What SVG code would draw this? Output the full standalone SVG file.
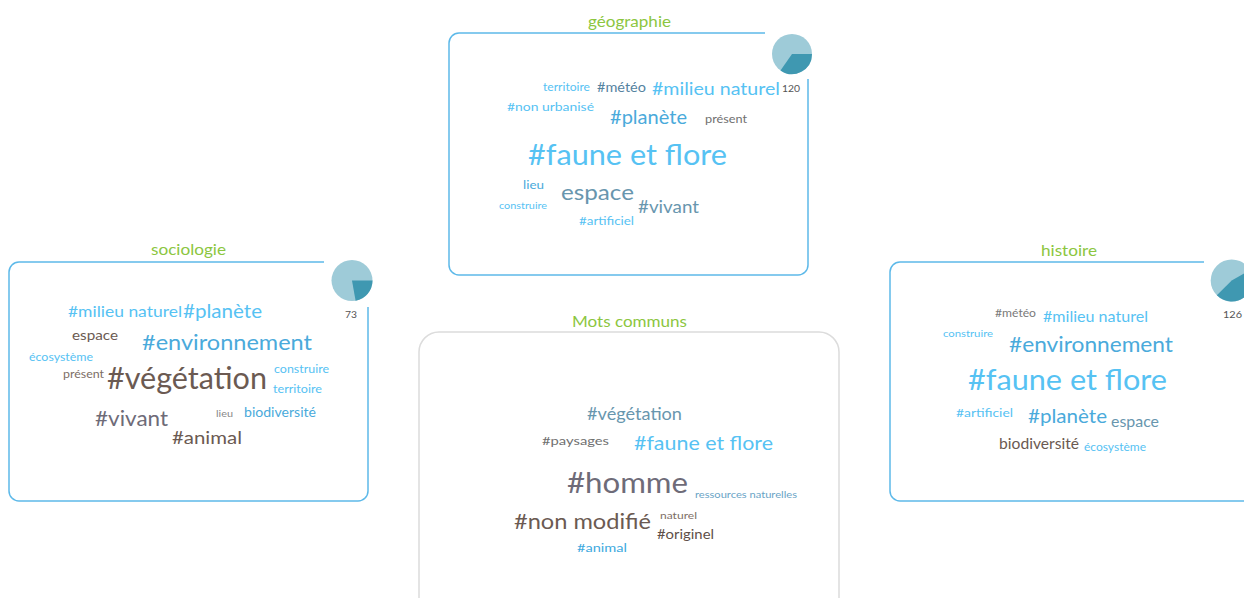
<svg xmlns="http://www.w3.org/2000/svg" width="1244" height="598" viewBox="0 0 1244 598">
<style>
text { font-family: Lato, "Open Sans", "Liberation Sans", sans-serif; }
.title { fill: #8cc63f; font-size: 15px; }
.box { fill: none; stroke: #5db9e9; stroke-width: 1.5; }
.gbox { fill: none; stroke: #dcdcdc; stroke-width: 1.5; }
.pl { fill: #9ecbd8; }
.pd { fill: #3f98b1; }
.num { fill: #555; font-size: 10px; }
.c1 { fill: #56c2f3; }
.c2 { fill: #4aaadb; }
.c3 { fill: #6896ae; }
.c4 { fill: #6b5a52; }
.c5 { fill: #707070; }
.c6 { fill: #6e6b78; }
</style>
<rect width="1244" height="598" fill="#fff"/>
<g id="connectors"/>

<g id="geographie">
  <text class="title" x="588" y="27" textLength="83" lengthAdjust="spacingAndGlyphs">géographie</text>
  <path class="box" d="M765,33 H459 A10,10 0 0 0 449,43 V265 A10,10 0 0 0 459,275 H798 A10,10 0 0 0 808,265 V79"/>
  <circle class="pl" cx="792" cy="54" r="20"/>
  <path class="pd" d="M792,54 L812,54 A20,20 0 0 1 780.5,70.4 Z"/>
  <text class="num" x="782" y="92" textLength="18" lengthAdjust="spacingAndGlyphs">120</text>
  <text class="c1" x="543" y="91" font-size="11" textLength="47" lengthAdjust="spacingAndGlyphs">territoire</text>
  <text class="c3" x="597" y="92" font-size="13" textLength="49" lengthAdjust="spacingAndGlyphs" style="fill:#55839f">#météo</text>
  <text class="c1" x="652" y="95" font-size="18" textLength="128" lengthAdjust="spacingAndGlyphs">#milieu naturel</text>
  <text class="c1" x="507" y="111" font-size="12" textLength="87" lengthAdjust="spacingAndGlyphs">#non urbanisé</text>
  <text class="c2" x="610" y="124" font-size="19" textLength="77" lengthAdjust="spacingAndGlyphs">#planète</text>
  <text class="c5" x="705" y="123" font-size="12" textLength="42" lengthAdjust="spacingAndGlyphs">présent</text>
  <text class="c1" x="528" y="165" font-size="29" textLength="199" lengthAdjust="spacingAndGlyphs">#faune et flore</text>
  <text class="c2" x="523" y="189" font-size="12" textLength="21" lengthAdjust="spacingAndGlyphs">lieu</text>
  <text class="c3" x="561" y="200" font-size="21" textLength="73" lengthAdjust="spacingAndGlyphs">espace</text>
  <text class="c3" x="638" y="213" font-size="18" textLength="61" lengthAdjust="spacingAndGlyphs">#vivant</text>
  <text class="c1" x="499" y="209" font-size="10" textLength="48" lengthAdjust="spacingAndGlyphs">construire</text>
  <text class="c1" x="579" y="225" font-size="12" textLength="55" lengthAdjust="spacingAndGlyphs">#artificiel</text>
</g>

<g id="sociologie">
  <text class="title" x="151" y="255" textLength="75" lengthAdjust="spacingAndGlyphs">sociologie</text>
  <path class="box" d="M324,262 H19 A10,10 0 0 0 9,272 V491 A10,10 0 0 0 19,501 H358 A10,10 0 0 0 368,491 V307"/>
  <circle class="pl" cx="352" cy="280.5" r="20.5"/>
  <path class="pd" d="M352,280.5 L372.5,280.5 A20.5,20.5 0 0 1 355.6,300.7 Z"/>
  <text class="num" x="345" y="318" textLength="12" lengthAdjust="spacingAndGlyphs">73</text>
  <text class="c1" x="68" y="317" font-size="16" textLength="114" lengthAdjust="spacingAndGlyphs">#milieu naturel</text>
  <text class="c1" x="183" y="318" font-size="19" textLength="79" lengthAdjust="spacingAndGlyphs">#planète</text>
  <text class="c4" x="72" y="340" font-size="14" textLength="46" lengthAdjust="spacingAndGlyphs">espace</text>
  <text class="c2" x="142" y="350" font-size="21" textLength="170" lengthAdjust="spacingAndGlyphs">#environnement</text>
  <text class="c1" x="29" y="361" font-size="11" textLength="64" lengthAdjust="spacingAndGlyphs">écosystème</text>
  <text class="c1" x="274" y="373" font-size="12" textLength="55" lengthAdjust="spacingAndGlyphs">construire</text>
  <text class="c4" x="63" y="378" font-size="11" textLength="41" lengthAdjust="spacingAndGlyphs" style="fill:#7d6e66">présent</text>
  <text class="c4" x="107" y="389" font-size="30" textLength="160" lengthAdjust="spacingAndGlyphs">#végétation</text>
  <text class="c1" x="273" y="393" font-size="12" textLength="49" lengthAdjust="spacingAndGlyphs">territoire</text>
  <text class="c6" x="95" y="426" font-size="21" textLength="73" lengthAdjust="spacingAndGlyphs">#vivant</text>
  <text class="c5" x="216" y="417" font-size="10" textLength="17" lengthAdjust="spacingAndGlyphs" style="fill:#888">lieu</text>
  <text class="c2" x="244" y="417" font-size="13" textLength="72" lengthAdjust="spacingAndGlyphs">biodiversité</text>
  <text class="c4" x="172" y="444" font-size="18" textLength="70" lengthAdjust="spacingAndGlyphs">#animal</text>
</g>

<g id="histoire">
  <text class="title" x="1041" y="256" textLength="56" lengthAdjust="spacingAndGlyphs">histoire</text>
  <path class="box" d="M1204,262 H900 A10,10 0 0 0 890,272 V491 A10,10 0 0 0 900,501 H1250"/>
  <circle class="pl" cx="1231.7" cy="280.5" r="21"/>
  <path class="pd" d="M1231.7,280.5 L1249.9,270 A21,21 0 0 1 1216.85,295.35 Z"/>
  <text class="num" x="1223" y="318" textLength="19" lengthAdjust="spacingAndGlyphs">126</text>
  <text class="c5" x="995" y="317" font-size="11" textLength="41" lengthAdjust="spacingAndGlyphs" style="fill:#7a7a7a">#météo</text>
  <text class="c1" x="1043" y="322" font-size="15" textLength="105" lengthAdjust="spacingAndGlyphs">#milieu naturel</text>
  <text class="c1" x="943" y="337" font-size="10" textLength="50" lengthAdjust="spacingAndGlyphs">construire</text>
  <text class="c2" x="1009" y="352" font-size="21" textLength="164" lengthAdjust="spacingAndGlyphs">#environnement</text>
  <text class="c1" x="968" y="390" font-size="29" textLength="199" lengthAdjust="spacingAndGlyphs">#faune et flore</text>
  <text class="c1" x="956" y="417" font-size="12" textLength="57" lengthAdjust="spacingAndGlyphs">#artificiel</text>
  <text class="c2" x="1028" y="423" font-size="19" textLength="79" lengthAdjust="spacingAndGlyphs">#planète</text>
  <text class="c3" x="1111" y="427" font-size="15" textLength="48" lengthAdjust="spacingAndGlyphs">espace</text>
  <text class="c4" x="999" y="449" font-size="15" textLength="80" lengthAdjust="spacingAndGlyphs">biodiversité</text>
  <text class="c1" x="1084" y="451" font-size="11" textLength="62" lengthAdjust="spacingAndGlyphs">écosystème</text>
</g>

<g id="mots-communs">
  <text class="title" x="572" y="327" textLength="115" lengthAdjust="spacingAndGlyphs">Mots communs</text>
  <rect class="gbox" x="419" y="332" width="420" height="300" rx="20"/>
  <text class="c3" x="587" y="420" font-size="18" textLength="95" lengthAdjust="spacingAndGlyphs">#végétation</text>
  <text class="c5" x="542" y="445" font-size="12" textLength="67" lengthAdjust="spacingAndGlyphs">#paysages</text>
  <text class="c1" x="634" y="450" font-size="20" textLength="139" lengthAdjust="spacingAndGlyphs">#faune et flore</text>
  <text class="c6" x="567" y="493" font-size="29" textLength="121" lengthAdjust="spacingAndGlyphs">#homme</text>
  <text class="c3" x="695" y="498" font-size="10" textLength="102" lengthAdjust="spacingAndGlyphs" style="fill:#6aa4c6">ressources naturelles</text>
  <text class="c4" x="514" y="529" font-size="21" textLength="137" lengthAdjust="spacingAndGlyphs">#non modifié</text>
  <text class="c4" x="660" y="519" font-size="10" textLength="37" lengthAdjust="spacingAndGlyphs" style="fill:#7d6e66">naturel</text>
  <text class="c4" x="657" y="539" font-size="13" textLength="57" lengthAdjust="spacingAndGlyphs" style="fill:#5e4f48">#originel</text>
  <text class="c2" x="577" y="552" font-size="12" textLength="50" lengthAdjust="spacingAndGlyphs" style="fill:#3ea9de">#animal</text>
</g>
</svg>
